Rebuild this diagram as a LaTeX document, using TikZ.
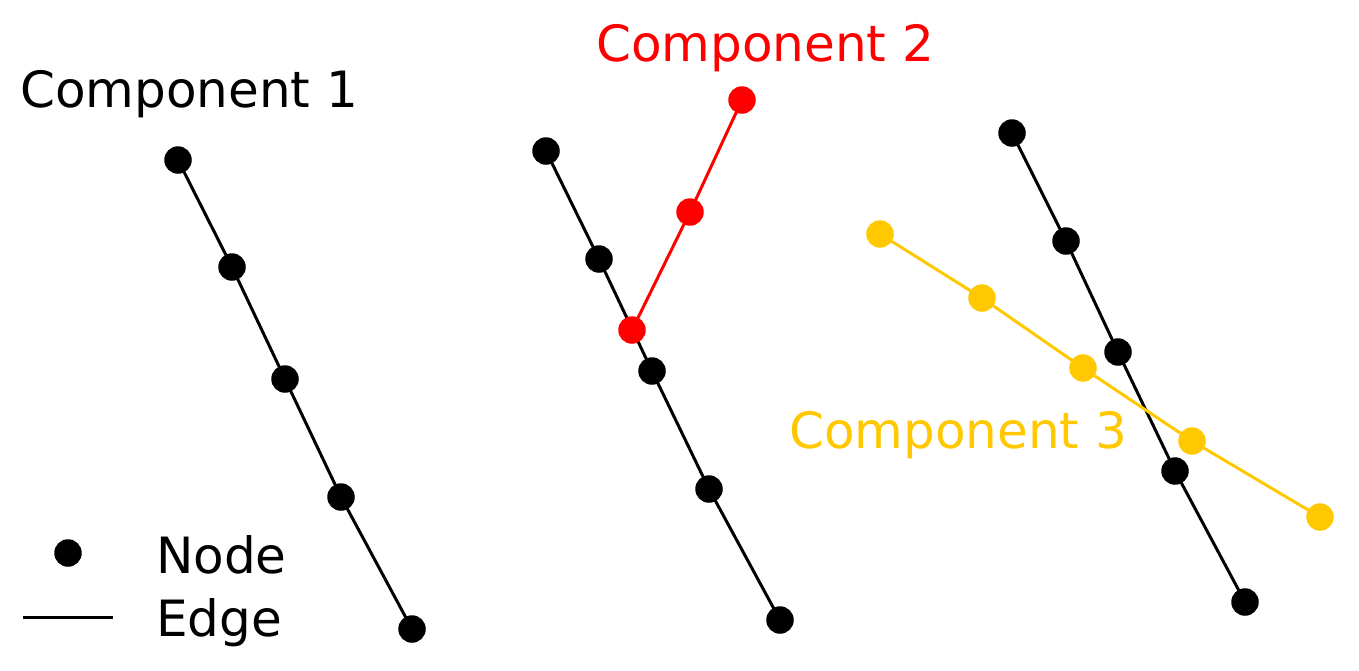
\documentclass[tikz,border=0pt]{standalone}
\usepackage{fontspec}
\setmainfont{DejaVu Sans}
\usetikzlibrary{backgrounds}
\definecolor{cred}{RGB}{255,0,0}
\definecolor{cyel}{RGB}{255,200,0}
\tikzset{
  dot/.style={circle,fill=#1,inner sep=0pt,minimum size=27.5pt},
  dot/.default=black,
  edgeline/.style={line width=3pt,draw=#1},
  edgeline/.default=black,
  lab/.style={anchor=base west,inner sep=0pt,font=\fontsize{50}{54}\selectfont}
}
\begin{document}
\begin{tikzpicture}[x=1pt,y=-1pt]
\path[use as bounding box] (0,0) rectangle (1359,670);
% Component 1
\node[dot] (a1) at (178,160) {};
\node[dot] (a2) at (232,267) {};
\node[dot] (a3) at (285,379) {};
\node[dot] (a4) at (341,497) {};
\node[dot] (a5) at (412,629) {};
% Component 2
\node[dot] (b1) at (546,151) {};
\node[dot] (b2) at (599,259) {};
\node[dot] (b3) at (652,371) {};
\node[dot] (b4) at (709,489) {};
\node[dot] (b5) at (780,620) {};
\node[dot=cred] (r1) at (632,330) {};
\node[dot=cred] (r2) at (690,212) {};
\node[dot=cred] (r3) at (742,100) {};
% Component 3
\node[dot] (c1) at (1012,133) {};
\node[dot] (c2) at (1066,241) {};
\node[dot] (c3) at (1118,352) {};
\node[dot] (c4) at (1175,471) {};
\node[dot] (c5) at (1245,602) {};
\node[dot=cyel] (y1) at (880,234) {};
\node[dot=cyel] (y2) at (982,298) {};
\node[dot=cyel] (y3) at (1083,368) {};
\node[dot=cyel] (y4) at (1192,441) {};
\node[dot=cyel] (y5) at (1320,517) {};
% legend
\node[dot] (ld) at (68,553) {};
\coordinate (le1) at (23,617);
\coordinate (le2) at (113,617);
\begin{scope}[on background layer]
\draw[edgeline] (a1.center) -- (a2.center) -- (a3.center) -- (a4.center) -- (a5.center);
\draw[edgeline] (b1.center) -- (b2.center) -- (b3.center) -- (b4.center) -- (b5.center);
\draw[edgeline=cred] (r1.center) -- (r2.center) -- (r3.center);
\draw[edgeline] (c1.center) -- (c2.center) -- (c3.center) -- (c4.center) -- (c5.center);
\draw[edgeline=cyel] (y1.center) -- (y2.center) -- (y3.center) -- (y4.center) -- (y5.center);
\draw[edgeline] (le1) -- (le2);
\end{scope}
% labels
\node[lab] (t1) at (20,107) {Component 1};
\node[lab,text=cred] (t2) at (596,61) {Component 2};
\node[lab,text=cyel] (t3) at (789,448) {Component 3};
\node[lab] (tn) at (156,573) {Node};
\node[lab] (te) at (156,636) {Edge};
\end{tikzpicture}
\end{document}
